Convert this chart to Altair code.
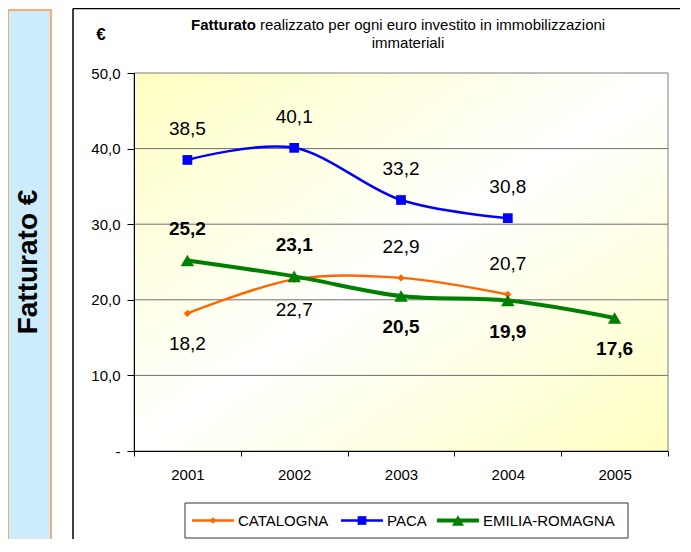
import altair as alt
import pandas as pd

# ---------------- data ----------------
years = ["2001", "2002", "2003", "2004", "2005"]
series_names = ["CATALOGNA", "PACA", "EMILIA-ROMAGNA"]
series_colors = ["#FF6600", "#0000FF", "#008000"]
catalogna = [18.2, 22.7, 22.9, 20.7, None]
paca = [38.5, 40.1, 33.2, 30.8, None]
emilia = [25.2, 23.1, 20.5, 19.9, 17.6]
catalogna_label_side = ["below", "below", "above", "above", None]
paca_label_side = ["above", "above", "above", "above", None]
emilia_label_side = ["above", "above", "below", "below", "below"]
y_ticks = [0, 10, 20, 30, 40, 50]
grid_values = [10, 20, 30, 40]
title_bold = "Fatturato"
title_rest = "realizzato per ogni euro investito in immobilizzazioni"
title_line2 = "immateriali"
side_title = "Fatturato €"
unit_label = "€"

# ---------------- styles ----------------
FONT = "Liberation Sans, Arial, sans-serif"
W, H = 534, 378
styles = {
    "CATALOGNA": dict(width=2.5, shape="diamond", size=55, bold=False),
    "PACA": dict(width=2.5, shape="square", size=95, bold=False),
    "EMILIA-ROMAGNA": dict(width=4, shape="triangle-up", size=180, bold=True),
}

rows = []
for name, vals, sides in zip(series_names,
                             [catalogna, paca, emilia],
                             [catalogna_label_side, paca_label_side, emilia_label_side]):
    for yr, v, s in zip(years, vals, sides):
        if v is not None:
            rows.append(dict(year=yr, series=name, value=v, side=s))
df = pd.DataFrame(rows)
one = pd.DataFrame({"k": [0]})

x_enc = alt.X(
    "year:N",
    scale=alt.Scale(type="band", domain=years, paddingInner=0, paddingOuter=0),
    axis=alt.Axis(title=None, labelAngle=0, tickBand="extent", domainColor="black",
                  tickColor="black", tickSize=5, labelPadding=11, labelFont=FONT,
                  labelFontSize=15, labelColor="black", zindex=1),
)
y_enc = alt.Y(
    "value:Q",
    scale=alt.Scale(domain=[0, 50], nice=False, zero=True),
    axis=alt.Axis(title=None, values=y_ticks, grid=False, tickSize=7, domainColor="black",
                  tickColor="black", labelPadding=7, labelFont=FONT, labelFontSize=15,
                  labelColor="black", zindex=1,
                  labelExpr="datum.value == 0 ? '-' : replace(format(datum.value, '.1f'), '.', ',')"),
)

layers = []

# outer decorations
layers.append(alt.Chart(one).mark_rect(fill="#CCEBFB", stroke="#F79646", strokeWidth=1.5).encode(
    x=alt.value(-126), x2=alt.value(-83), y=alt.value(-63), y2=alt.value(480)))
layers.append(alt.Chart(one).mark_text(text=side_title, angle=270, font=FONT,
                                       fontSize=28, fontWeight="bold", color="black",
                                       align="center", baseline="middle").encode(
    x=alt.value(-105), y=alt.value(189)))
layers.append(alt.Chart(one).mark_rule(color="black", strokeWidth=1.5).encode(
    x=alt.value(-61), y=alt.value(-64.5), y2=alt.value(480)))
layers.append(alt.Chart(one).mark_rule(color="black", strokeWidth=1.5).encode(
    x=alt.value(-61), x2=alt.value(600), y=alt.value(-64.5)))

# plot background
grad = alt.Gradient(gradient="linear",
                    stops=[alt.GradientStop(color="#FFFFC2", offset=0),
                           alt.GradientStop(color="#FFFFFF", offset=0.5),
                           alt.GradientStop(color="#FFFFC2", offset=1)],
                    x1=0, y1=0, x2=1, y2=1)
layers.append(alt.Chart(one).mark_rect(color=grad).encode(
    x=alt.value(0), x2=alt.value(W), y=alt.value(0), y2=alt.value(H)))
layers.append(alt.Chart(pd.DataFrame({"value": grid_values})).mark_rule(color="#6F6F6F", strokeWidth=1).encode(
    y=alt.Y("value:Q"), x=alt.value(0), x2=alt.value(W)))
layers.append(alt.Chart(one).mark_rect(fill=None, stroke="#7F7F7F", strokeWidth=1).encode(
    x=alt.value(0), x2=alt.value(W), y=alt.value(0), y2=alt.value(H)))

# titles
layers.append(alt.Chart(one).mark_text(text=title_bold, font=FONT, fontSize=15, fontWeight="bold",
                                       align="right", baseline="middle", color="black").encode(
    x=alt.value(122), y=alt.value(-48)))
layers.append(alt.Chart(one).mark_text(text=title_rest, font=FONT, fontSize=15,
                                       align="left", baseline="middle", color="black").encode(
    x=alt.value(126), y=alt.value(-48)))
layers.append(alt.Chart(one).mark_text(text=title_line2, font=FONT, fontSize=15,
                                       align="center", baseline="middle", color="black").encode(
    x=alt.value(274), y=alt.value(-30)))
layers.append(alt.Chart(one).mark_text(text=unit_label, font=FONT,
                                       fontSize=17, fontWeight="bold",
                                       align="center", baseline="middle", color="black").encode(
    x=alt.value(-33), y=alt.value(-38)))

# series
for name, color in zip(series_names, series_colors):
    st = styles[name]
    base = alt.Chart(df).transform_filter(alt.datum.series == name)
    layers.append(base.mark_line(color=color, strokeWidth=st["width"], interpolate="cardinal").encode(
        x=x_enc, y=y_enc))
    layers.append(base.mark_point(color=color, filled=True, opacity=1, shape=st["shape"],
                                  size=st["size"]).encode(x=x_enc, y=y_enc))
    for side, dy in [("above", -31), ("below", 31)]:
        layers.append(
            base.transform_filter(alt.datum.side == side)
            .transform_calculate(label="replace(format(datum.value, '.1f'), '.', ',')")
            .mark_text(font=FONT, fontSize=19, fontWeight="bold" if st["bold"] else "normal",
                       color="black", dy=dy, align="center", baseline="middle")
            .encode(x=x_enc, y=y_enc, text="label:N"))

# custom legend
layers.append(alt.Chart(one).mark_rect(fill="white", stroke="#333333", strokeWidth=1).encode(
    x=alt.value(51), x2=alt.value(494), y=alt.value(430), y2=alt.value(465)))
legend_starts = [58, 207, 303]
LY = 447.5
for name, color, x0 in zip(series_names, series_colors, legend_starts):
    st = styles[name]
    layers.append(alt.Chart(one).mark_rule(color=color, strokeWidth=st["width"]).encode(
        x=alt.value(x0), x2=alt.value(x0 + 42), y=alt.value(LY)))
    layers.append(alt.Chart(one).mark_point(color=color, filled=True, opacity=1, shape=st["shape"],
                                            size=st["size"] * 0.8).encode(
        x=alt.value(x0 + 21), y=alt.value(LY)))
    layers.append(alt.Chart(one).mark_text(text=name, font=FONT, fontSize=15, color="black",
                                           align="left", baseline="middle").encode(
        x=alt.value(x0 + 46), y=alt.value(LY)))

chart = alt.layer(*layers).properties(
    width=W, height=H,
    padding={"left": 126, "top": 65, "right": 12, "bottom": 88},
    autosize=alt.AutoSizeParams(type="none"),
    background="white",
).configure_view(stroke=None)

chart.save("out.html", embed_options={"renderer": "svg", "actions": False})
